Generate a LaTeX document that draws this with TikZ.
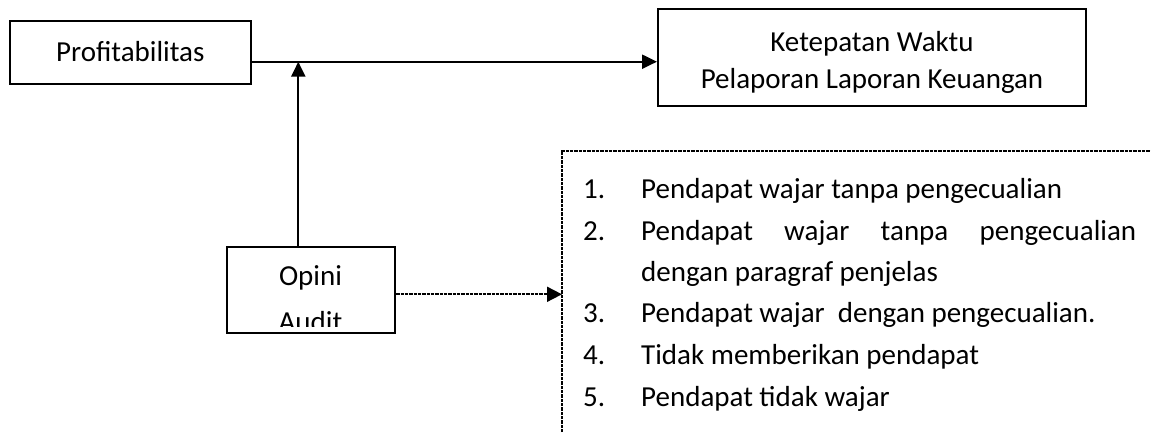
\documentclass[tikz,border=0pt]{standalone}
\usepackage{fontspec}
\setmainfont{Carlito}
\usetikzlibrary{arrows.meta}
\begin{document}
\begin{tikzpicture}[x=1pt,y=-1pt,
  box/.style={draw,line width=2pt,inner sep=0pt},
  txt/.style={inner sep=0pt,anchor=base,font=\fontsize{29}{35}\selectfont},
  itemtxt/.style={inner sep=0pt,anchor=base west,font=\fontsize{29}{35}\selectfont},
  conn/.style={line width=2.2pt,-{Triangle[length=15pt,width=14pt]}},
  dotconn/.style={line width=1.8pt,dash pattern=on 0.8pt off 0.5pt,-{Triangle[length=15pt,width=15pt]}},
  dotedge/.style={line width=1.6pt,dash pattern=on 0.8pt off 0.5pt}]
\useasboundingbox (0,0) rectangle (1151,432);
% boxes
\node[box,minimum width=240.7pt,minimum height=63.6pt] (prof) at (130.35,52.5) {};
\node[box,minimum width=428pt,minimum height=96.7pt] (ket) at (872,57.65) {};
\node[box,minimum width=168pt,minimum height=86.6pt] (opini) at (310.5,290) {};
% texts
\node[txt] (proft) at (130.35,61) {Profitabilitas};
\node[txt] (ket1) at (872,51) {Ketepatan Waktu};
\node[txt] (ket2) at (872,88) {Pelaporan Laporan Keuangan};
\node[txt] (op1) at (310.5,285) {Opini};
\begin{scope}
  \clip (228,248) rectangle (393,326);
  \node[txt] (op2) at (310.5,331) {Audit};
\end{scope}
% connectors
\coordinate (j) at (298.3,61.7);
\coordinate (dy) at (0,294.3);
\coordinate (lt) at (562,151);
\coordinate (lb) at (562,432);
\coordinate (rt) at (1151,151);
\draw[conn] (prof.east |- j) -- (ket.west |- j);
\draw[conn] (opini.north -| j) -- (j);
\draw[dotedge] (lb) -- (lt) -- (rt);
\draw[dotconn] (opini.east |- dy) -- (lt |- dy);
% list
\node[itemtxt] (n1) at (583,198) {1.};
\node[itemtxt] (t1) at (641,198) {Pendapat wajar tanpa pengecualian};
\node[itemtxt] (n2) at (583,240) {2.};
\node[itemtxt] (t2) at (641,240) {\makebox[495pt][s]{Pendapat wajar tanpa pengecualian}};
\node[itemtxt] (t2b) at (641,281) {dengan paragraf penjelas};
\node[itemtxt] (n3) at (583,322) {3.};
\node[itemtxt] (t3) at (641,322) {Pendapat wajar\ \ dengan pengecualian.};
\node[itemtxt] (n4) at (583,364) {4.};
\node[itemtxt] (t4) at (641,364) {Tidak memberikan\ pendapat};
\node[itemtxt] (n5) at (583,406) {5.};
\node[itemtxt] (t5) at (641,406) {Pendapat tidak wajar};
\end{tikzpicture}
\end{document}
